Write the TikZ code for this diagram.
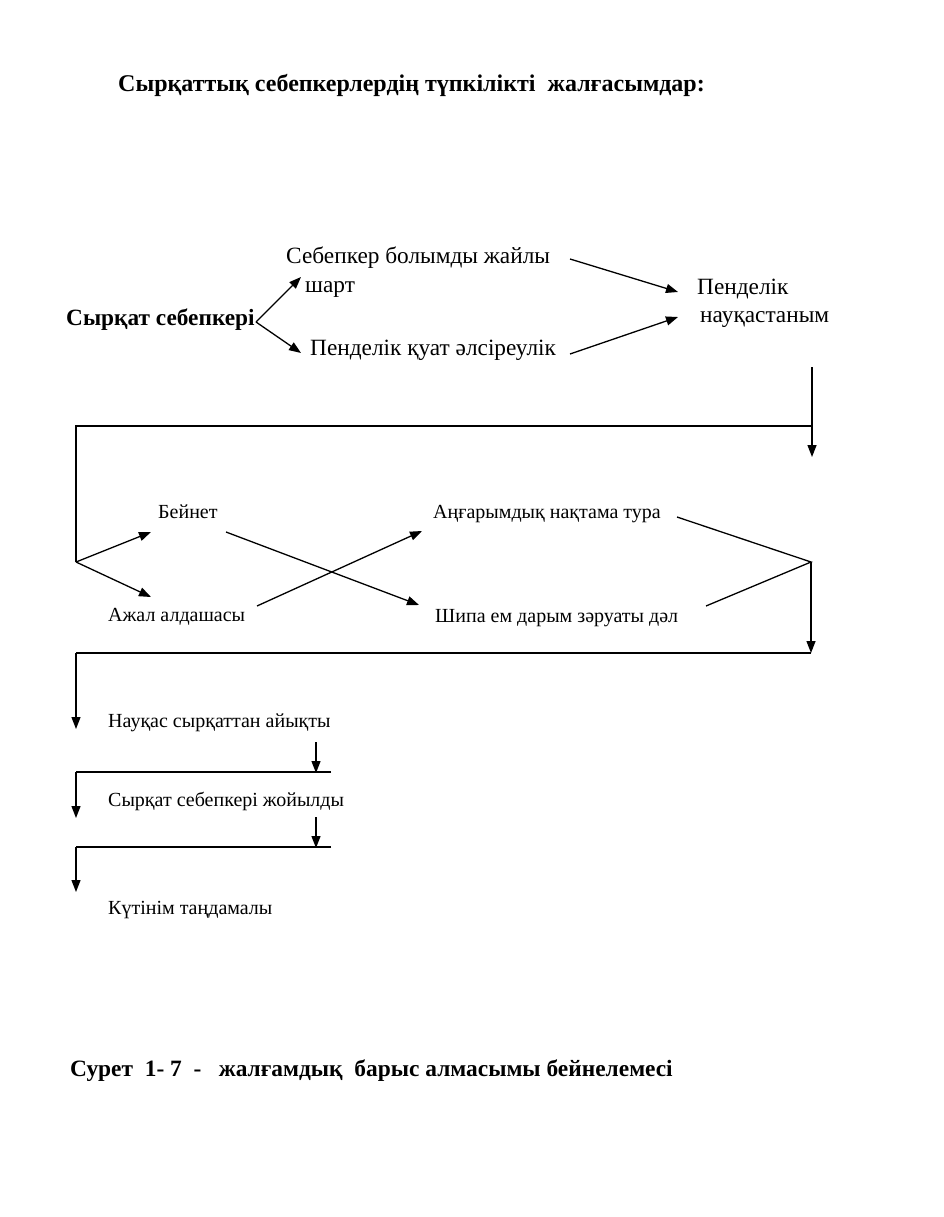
\documentclass[tikz,border=0pt]{standalone}
\usepackage{fontspec}
\setmainfont{Liberation Serif}
\usetikzlibrary{arrows.meta}
\begin{document}
\begin{tikzpicture}[x=1pt,y=-1pt,
  every node/.style={inner sep=0pt, anchor=west},
  big/.style={font=\fontsize{23.3}{27}\selectfont},
  bigb/.style={font=\fontsize{23.3}{27}\selectfont\bfseries},
  small/.style={font=\fontsize{20}{24}\selectfont},
  head/.style={font=\fontsize{24}{28}\selectfont\bfseries},
  capf/.style={font=\fontsize{23.4}{28}\selectfont\bfseries},
  ln/.style={line width=1.3pt},
  arr/.style={ln, -{Triangle[length=12pt,width=9pt]}}]
\useasboundingbox[fill=white] (0,0) rectangle (943,1217);
% texts
\node[head] (title) at (118,85) {Сырқаттық себепкерлердің түпкілікті\ \ жалғасымдар:};
\node[bigb] (src) at (66,320) {Сырқат себепкері};
\node[big] (a1) at (286,258) {Себепкер болымды жайлы};
\node[big] (a1b) at (305,289) {шарт};
\node[big] (a2) at (310,350) {Пенделік қуат әлсіреулік};
\node[big] (r1) at (697,289) {Пенделік};
\node[big] (r2) at (700,320) {науқастаным};
\node[small] (b1) at (158,512) {Бейнет};
\node[small] (b2) at (108,617) {Ажал алдашасы};
\node[small] (c1) at (433,514) {Аңғарымдық нақтама тура};
\node[small] (c2) at (435,618) {Шипа ем дарым зәруаты дәл};
\node[small] (d1) at (108,723) {Науқас сырқаттан айықты};
\node[small] (d2) at (108,801) {Сырқат себепкері жойылды};
\node[small] (d3) at (108,910) {Күтінім таңдамалы};
\node[capf] (cap) at (70,1071) {Сурет\ \ 1- 7\ \ -\ \ \ жалғамдық\ \ барыс алмасымы бейнелемесі};
% coordinates
\coordinate (s0) at (256,322);
\coordinate (s1) at (301,277);
\coordinate (s2) at (301,353);
\coordinate (t1a) at (570,259);
\coordinate (t1b) at (678,292);
\coordinate (t2a) at (570,354);
\coordinate (t2b) at (678,317);
\coordinate (v1a) at (812,367);
\coordinate (v1b) at (812,457);
\coordinate (h1r) at (812,426);
\coordinate (h1l) at (76,426);
\coordinate (sp) at (76,562);
\coordinate (u1) at (151,532);
\coordinate (u2) at (151,597);
\coordinate (x1a) at (226,532);
\coordinate (x1b) at (419,605);
\coordinate (x2a) at (257,606);
\coordinate (x2b) at (422,531);
\coordinate (m1) at (677,517);
\coordinate (m2) at (706,606);
\coordinate (mj) at (811,562);
\coordinate (h2r) at (811,653);
\coordinate (h2l) at (76,653);
\coordinate (e1) at (76,729);
\coordinate (k1a) at (316,742);
\coordinate (k1b) at (316,773);
\coordinate (h3l) at (76,772);
\coordinate (h3r) at (331,772);
\coordinate (e2) at (76,818);
\coordinate (k2a) at (316,817);
\coordinate (k2b) at (316,848);
\coordinate (h4l) at (76,847);
\coordinate (h4r) at (331,847);
\coordinate (e3) at (76,892);
% connectors
\draw[arr] (s0) -- (s1);
\draw[arr] (s0) -- (s2);
\draw[arr] (t1a) -- (t1b);
\draw[arr] (t2a) -- (t2b);
\draw[arr] (v1a) -- (v1b);
\draw[ln] (h1r) -- (h1l) -- (sp);
\draw[arr] (sp) -- (u1);
\draw[arr] (sp) -- (u2);
\draw[arr] (x1a) -- (x1b);
\draw[arr] (x2a) -- (x2b);
\draw[ln] (m1) -- (mj) -- (m2);
\draw[arr] (mj) -- (h2r);
\draw[ln] (h2r) -- (h2l);
\draw[arr] (h2l) -- (e1);
\draw[arr] (k1a) -- (k1b);
\draw[ln] (h3r) -- (h3l);
\draw[arr] (h3l) -- (e2);
\draw[arr] (k2a) -- (k2b);
\draw[ln] (h4r) -- (h4l);
\draw[arr] (h4l) -- (e3);
\end{tikzpicture}
\end{document}
